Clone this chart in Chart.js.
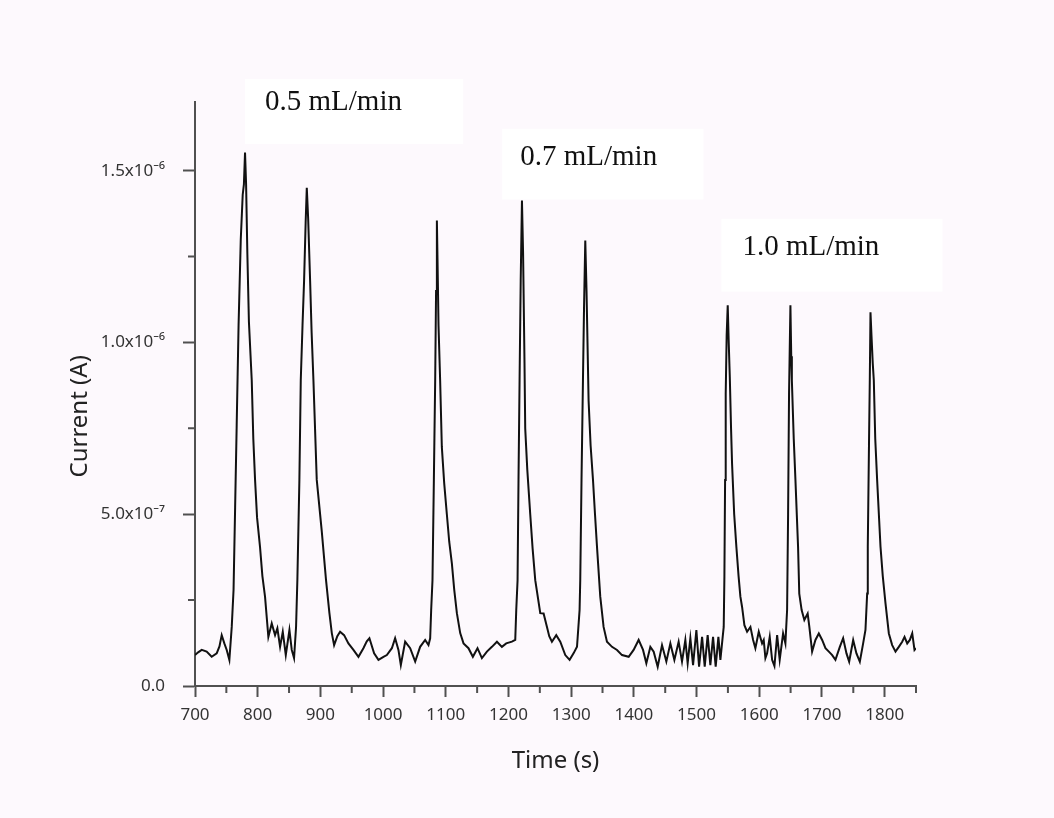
<!DOCTYPE html>
<html>
<head>
<meta charset="utf-8">
<script src="https://cdn.jsdelivr.net/npm/chart.js@4.4.1/dist/chart.umd.min.js"></script>
<style>
  body { margin: 0; background: #fdf9fd; overflow: hidden; }
  canvas { display: block; }
</style>
</head>
<body>
<canvas id="chart" width="1054" height="818"></canvas>
<script>
// time (s) and current (in units of 1e-7 A)
const timeS = [
  700, 705, 710.7, 718.6, 726.6, 734.6, 739, 742.6, 746.8, 750.6, 754.8, 758.6,
  761.5, 764, 766.5, 769.5, 773, 776.1, 778, 779.8, 781.5, 783.5, 786, 790.5, 793, 795.8, 799, 803.7, 807.5, 811.7, 817,
  822.4, 827.7, 831.4, 835.7, 840, 844.8, 850.6, 854.3, 858, 861.2,
  863.3, 866.5, 868.7, 871.5, 874, 876.5, 878.3, 880.5, 883.6, 886, 888.9, 894.2, 902.2, 909, 914.4, 918.2,
  921.9, 927, 931.4, 937.8, 944.7, 952.7, 960.7, 968.6, 974, 978.2, 985.7, 992.6, 1000.6, 1006, 1014, 1019.2,
  1024.5, 1028.3, 1035.2, 1043.2, 1051.2, 1059.1, 1067.1, 1072.4, 1075.1,
  1076.7, 1078.8, 1081, 1083.1, 1084.5, 1085.8, 1087, 1088.4, 1091, 1093.7, 1097.5, 1101.7, 1105.5, 1109.7, 1113.5, 1117.7, 1123,
  1128.3, 1136.2, 1143.2, 1150.6, 1157.6, 1165.6, 1173.6, 1181.6, 1189.5, 1196.4, 1205.5, 1210.8,
  1212.4, 1214.5, 1216, 1217.7, 1219.5, 1221.5, 1223.3, 1225.5, 1226.7, 1230, 1234.7, 1238.5, 1242.7, 1250.7,
  1256, 1261.4, 1265, 1269.3, 1276.2, 1282.6, 1290.6, 1297.5, 1303.8, 1309.3,
  1313.4, 1314.5, 1316.5, 1318.8, 1320.5, 1322.5, 1324.5, 1327.8, 1331, 1334.8, 1338, 1341.2, 1346.4, 1351.7,
  1357.1, 1365.1, 1373.1, 1381.1, 1391.7, 1399.6, 1407.6, 1414.6, 1419.9, 1426.3, 1431.6, 1438, 1444.9, 1451.8,
  1458.2, 1464.6, 1471.4, 1476.8, 1482.1, 1485.8, 1490.1, 1494.4, 1499.7, 1504, 1508.8, 1513, 1517.7, 1522,
  1526.3, 1530.5, 1534.8, 1538, 1541.2, 1543.3,
  1544.4, 1545.5, 1546.5, 1548, 1549.7, 1551.3, 1553, 1555, 1556.6, 1560, 1563.5, 1567, 1569.9, 1572.6,
  1576.3, 1580.6, 1585.9, 1590.2, 1593.8, 1599.2, 1604.5, 1607.1, 1609.8, 1612.5, 1616.7, 1620.5, 1624.2, 1628.5, 1632.6, 1638, 1641.7,
  1644.4, 1646, 1647.5, 1649.7, 1651, 1652, 1655, 1657.7, 1661.9, 1663.8, 1667.6, 1671.9, 1677.2, 1679.9,
  1684.3, 1689.6, 1695, 1700.3, 1705.6, 1711, 1716.3, 1721.5, 1728.5, 1733.8, 1739.1, 1743.4, 1749.8, 1755, 1760.4, 1765.7, 1769.4,
  1772.1, 1773.1, 1775, 1776.3, 1777.4, 1779, 1781, 1782.7, 1785, 1788, 1793.4, 1797, 1801.4, 1806.7,
  1812, 1817.3, 1822.6, 1828, 1831.7, 1836, 1840.2, 1844, 1847.6, 1850
];
const currentE7 = [
  0.90, 0.98, 1.05, 1.00, 0.85, 0.95, 1.15, 1.48, 1.24, 1.05, 0.76, 1.72,
  2.8, 5.2, 7.6, 10.5, 13.0, 14.3, 14.6, 15.53, 14.6, 12.6, 10.6, 8.9, 7.2, 6.0, 4.9, 4.05, 3.2, 2.6, 1.43,
  1.82, 1.48, 1.68, 1.14, 1.58, 0.90, 1.63, 1.05, 0.81, 1.72,
  3.1, 6.0, 8.9, 10.5, 11.8, 13.5, 14.5, 13.6, 11.8, 10.3, 8.9, 6.0, 4.5, 3.08, 2.12, 1.54,
  1.19, 1.45, 1.58, 1.48, 1.24, 1.05, 0.85, 1.10, 1.30, 1.39, 0.95, 0.76, 0.85, 0.90, 1.10, 1.39,
  1.05, 0.61, 1.29, 1.10, 0.71, 1.14, 1.34, 1.19, 1.39,
  2.21, 3.08, 6.0, 8.9, 11.5, 13.55, 12.2, 10.5, 8.9, 6.96, 5.9, 5.0, 4.2, 3.57, 2.8, 2.12, 1.54,
  1.24, 1.10, 0.85, 1.10, 0.81, 1.00, 1.14, 1.29, 1.14, 1.24, 1.29, 1.34,
  2.21, 3.08, 6.0, 8.9, 11.8, 14.13, 12.6, 9.5, 7.5, 6.3, 5.0, 4.0, 3.08, 2.12,
  2.11, 1.72, 1.45, 1.29, 1.48, 1.29, 0.90, 0.76, 0.95, 1.14,
  2.21, 3.1, 6.0, 8.9, 11.0, 12.97, 11.5, 8.3, 7.0, 6.0, 5.0, 4.05, 2.6, 1.72,
  1.29, 1.14, 1.05, 0.90, 0.85, 1.05, 1.34, 1.05, 0.66, 1.14, 1.00, 0.56, 1.19, 0.71,
  1.24, 0.76, 1.29, 0.71, 1.34, 0.66, 1.39, 0.61, 1.63, 0.56, 1.43, 0.56, 1.48, 0.61,
  1.43, 0.56, 1.43, 0.76, 1.34, 1.72,
  3.18, 6.0, 8.5, 10.2, 11.08, 10.0, 9.0, 7.5, 6.48, 5.0, 4.05, 3.2, 2.6, 2.3,
  1.77, 1.58, 1.72, 1.34, 1.10, 1.58, 1.24, 1.34, 0.81, 0.95, 1.43, 0.76, 0.58, 1.48, 0.76, 1.53, 1.24,
  2.21, 5.0, 8.5, 11.08, 9.6, 8.9, 7.2, 6.0, 4.05, 2.69, 2.21, 1.92, 2.11, 1.72,
  1.00, 1.34, 1.53, 1.34, 1.10, 1.00, 0.90, 0.76, 1.14, 1.39, 0.95, 0.71, 1.34, 0.95, 0.71, 1.24, 1.63,
  2.69, 4.05, 7.0, 8.9, 10.88, 10.2, 9.4, 8.9, 7.2, 6.0, 4.05, 3.2, 2.4, 1.53,
  1.19, 1.00, 1.14, 1.29, 1.43, 1.24, 1.34, 1.53, 1.05, 1.10
];

const xTickValues = [700, 800, 900, 1000, 1100, 1200, 1300, 1400, 1500, 1600, 1700, 1800];
const xMinorTicks = [750, 850, 950, 1050, 1150, 1250, 1350, 1450, 1550, 1650, 1750, 1850];
const yTickValues = [0, 5, 10, 15];
const yTickLabels = ['0.0', '5.0x10\u207B\u2077', '1.0x10\u207B\u2076', '1.5x10\u207B\u2076'];
const yMinorTicks = [2.5, 7.5, 12.5];

// flow-rate labels, placed in data coordinates
const flowLabels = ['0.5 mL/min', '0.7 mL/min', '1.0 mL/min'];
const flowBoxes = [
  { x0: 779.8, x1: 1127.8, y0: 17.67, y1: 15.78, tx: 811.7, ty: 17.0 },
  { x0: 1190, x1: 1511, y0: 16.22, y1: 14.16, tx: 1218.7, ty: 15.38 },
  { x0: 1539.6, x1: 1892.3, y0: 13.6, y1: 11.48, tx: 1573.1, ty: 12.76 }
];

const axisColor = '#505050';
const tickFont = { family: "'Noto Sans', 'DejaVu Sans', sans-serif", size: 17 };

const extras = {
  id: 'extras',
  beforeDraw(chart) {
    const ctx = chart.ctx;
    ctx.save();
    ctx.fillStyle = '#fdf9fd';
    ctx.fillRect(0, 0, chart.width, chart.height);
    ctx.restore();
  },
  afterDraw(chart) {
    const ctx = chart.ctx;
    const xs = chart.scales.x, ys = chart.scales.y;
    const area = chart.chartArea;
    ctx.save();
    // minor ticks
    ctx.strokeStyle = axisColor;
    ctx.lineWidth = 2;
    ctx.beginPath();
    xMinorTicks.forEach(v => {
      const px = xs.getPixelForValue(v);
      ctx.moveTo(px, area.bottom);
      ctx.lineTo(px, area.bottom + 7);
    });
    yMinorTicks.forEach(v => {
      const py = ys.getPixelForValue(v);
      ctx.moveTo(area.left, py);
      ctx.lineTo(area.left - 7, py);
    });
    ctx.stroke();

    // y title
    ctx.fillStyle = '#222';
    ctx.font = "24px 'Noto Sans', 'DejaVu Sans', sans-serif";
    ctx.textAlign = 'center';
    ctx.textBaseline = 'middle';
    ctx.translate(area.left - 115, ys.getPixelForValue(7.85));
    ctx.rotate(-Math.PI / 2);
    ctx.fillText('Current (A)', 0, 0);
    ctx.restore();

    // flow-rate boxes
    ctx.save();
    ctx.font = "29px 'Liberation Serif', 'Times New Roman', serif";
    ctx.textAlign = 'left';
    ctx.textBaseline = 'middle';
    flowBoxes.forEach((b, i) => {
      const x0 = xs.getPixelForValue(b.x0), x1 = xs.getPixelForValue(b.x1);
      const y0 = ys.getPixelForValue(b.y0), y1 = ys.getPixelForValue(b.y1);
      ctx.fillStyle = '#ffffff';
      ctx.fillRect(x0, y0, x1 - x0, y1 - y0);
      ctx.fillStyle = '#111';
      ctx.fillText(flowLabels[i], xs.getPixelForValue(b.tx), ys.getPixelForValue(b.ty));
    });
    ctx.restore();
  }
};

new Chart(document.getElementById('chart'), {
  type: 'line',
  data: {
    datasets: [{
      data: timeS.map((t, i) => ({ x: t, y: currentE7[i] })),
      borderColor: '#111',
      borderWidth: 2,
      pointRadius: 0,
      tension: 0,
      fill: false
    }]
  },
  options: {
    responsive: false,
    animation: false,
    devicePixelRatio: 1,
    layout: { padding: { top: 102, right: 138, bottom: 38, left: 0 } },
    plugins: { legend: { display: false }, tooltip: { enabled: false } },
    scales: {
      x: {
        type: 'linear',
        min: 700,
        max: 1850,
        afterBuildTicks: s => { s.ticks = xTickValues.map(v => ({ value: v })); },
        afterFit: s => { s.height = 94; },
        border: { display: true, color: axisColor, width: 2 },
        grid: { drawOnChartArea: false, drawTicks: true, tickLength: 11, tickColor: axisColor, tickWidth: 2 },
        ticks: { font: tickFont, color: '#333', padding: 8, maxRotation: 0, callback: v => String(v) },
        title: {
          display: true, text: 'Time (s)', color: '#222',
          font: { family: "'Noto Sans', 'DejaVu Sans', sans-serif", size: 24 },
          padding: { top: 4, bottom: 4 }
        }
      },
      y: {
        type: 'linear',
        min: 0,
        max: 17,
        afterBuildTicks: s => { s.ticks = yTickValues.map(v => ({ value: v })); },
        afterFit: s => { s.width = 195; },
        border: { display: true, color: axisColor, width: 2 },
        grid: { drawOnChartArea: false, drawTicks: true, tickLength: 12, tickColor: axisColor, tickWidth: 2 },
        ticks: { font: tickFont, color: '#333', padding: 18, callback: (v, i) => yTickLabels[i] }
      }
    }
  },
  plugins: [extras]
});
</script>
</body>
</html>
